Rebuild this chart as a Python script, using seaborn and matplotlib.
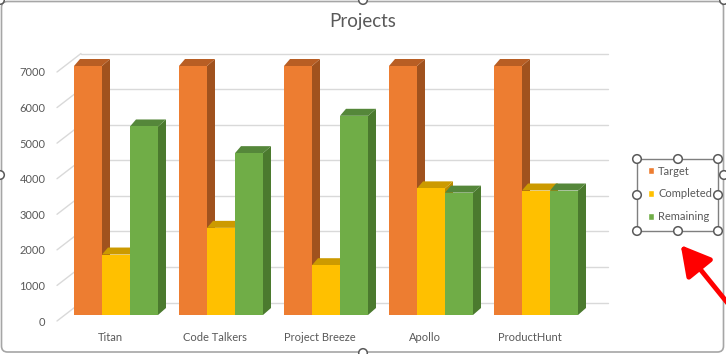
import numpy as np
import pandas as pd
import matplotlib
matplotlib.use("Agg")
import matplotlib.pyplot as plt
import seaborn as sns
from matplotlib.patches import Polygon, Rectangle, Circle, FancyBboxPatch
from matplotlib.transforms import ScaledTranslation

# dados do grafico
projetos = ['Titan', 'Code Talkers', 'Project Breeze', 'Apollo', 'ProductHunt']
target = [7000, 7000, 7000, 7000, 7000]
completed = [1700, 2450, 1400, 3560, 3500]
remaining = [5300, 4550, 5600, 3440, 3500]
series = ['Target', 'Completed', 'Remaining']
yticks = [0, 1000, 2000, 3000, 4000, 5000, 6000, 7000]

cores = ['#ED7D31', '#FFC000', '#70AD47']
cores_lado = ['#A0521E', '#B98B00', '#4B7A2E']
cores_topo = ['#B85E24', '#CC9A00', '#55873A']

df = pd.DataFrame({'Projeto': projetos * 3,
                   'Serie': [s for s in series for _ in projetos],
                   'Valor': target + completed + remaining})

sns.set_style('white')
plt.rcParams['font.family'] = ['Lato', 'DejaVu Sans']
texto = '#595959'

W, H = 726, 354
fig = plt.figure(figsize=(W / 100, H / 100), dpi=100)
ax = fig.add_axes([63.5 / W, 39 / H, 525 / W, 249 / H])

sns.barplot(data=df, x='Projeto', y='Valor', hue='Serie', palette=cores,
            width=0.8, saturation=1, errorbar=None, ax=ax, zorder=3)
handles, labels = ax.get_legend_handles_labels()
ax.get_legend().remove()

ax.set_xlim(-0.5, 4.5)
ax.set_ylim(0, 7000)
ax.set_yticks(yticks)
ax.set_xlabel('')
ax.set_ylabel('')
for s in ax.spines.values():
    s.set_visible(False)
ax.tick_params(length=0, colors=texto, labelsize=8)
ax.tick_params(axis='y', pad=13)
ax.tick_params(axis='x', pad=12.5)

for lab in ax.get_yticklabels():
    lab.set_transform(lab.get_transform() + ScaledTranslation(0, -0.06, fig.dpi_scale_trans))
for lab in ax.get_xticklabels():
    lab.set_transform(lab.get_transform() + ScaledTranslation(-0.06, 0, fig.dpi_scale_trans))

inv = ax.transData.inverted()

def to_data(pts):
    return inv.transform(np.array(pts))

# paredes: grade no fundo e linhas da parede lateral
bdx, bdy = 17.5, 12.5
for v in yticks:
    x0, y0 = ax.transData.transform((-0.5, v))
    x1, _ = ax.transData.transform((4.5, v))
    p = to_data([(x0 + bdx, y0 + bdy), (x1 + bdx + 2, y0 + bdy)])
    ax.plot(p[:, 0], p[:, 1], color='#D9D9D9', lw=1, zorder=0, clip_on=False)
    p = to_data([(x0 - 6.5, y0 - 6), (x0 + bdx, y0 + bdy)])
    ax.plot(p[:, 0], p[:, 1], color='#D9D9D9', lw=1, zorder=0, clip_on=False)

# efeito 3D nas barras (ignora os retangulos vazios da legenda)
dx, dy = 8, 7
barras = sorted([b for b in ax.patches if b.get_width() > 0 and b.get_height() > 0],
                key=lambda b: b.get_x())
hex_cores = [matplotlib.colors.to_hex(c) for c in cores]
for r, b in enumerate(barras):
    k = hex_cores.index(matplotlib.colors.to_hex(b.get_facecolor()))
    b.set_zorder(3 + r * 0.01 + 0.005)
    b.set_edgecolor('none')
    (xa, ya), (xb, yb) = ax.transData.transform([(b.get_x(), b.get_y()),
                                                 (b.get_x() + b.get_width(), b.get_y() + b.get_height())])
    lado = to_data([(xb, ya), (xb + dx, ya + dy), (xb + dx, yb + dy), (xb, yb)])
    topo = to_data([(xa, yb), (xa + dx - 2, yb + dy), (xb + dx, yb + dy), (xb, yb)])
    ax.add_patch(Polygon(lado, closed=True, fc=cores_lado[k], ec='none',
                         zorder=3 + r * 0.01 + 0.001, clip_on=False))
    ax.add_patch(Polygon(topo, closed=True, fc=cores_topo[k], ec='none',
                         zorder=3 + r * 0.01 + 0.002, clip_on=False))

fig.text(363 / W, 1 - 21 / H, 'Projects', ha='center', va='center',
         fontsize=13.5, color=texto)

# legenda
leg = fig.legend(handles, labels, loc='upper left', bbox_to_anchor=(640 / W, 1 - 158 / H),
                 frameon=False, fontsize=8, handlelength=0.6, handleheight=0.6,
                 handletextpad=0.35, labelspacing=1.05, borderpad=0.2)
for t in leg.get_texts():
    t.set_color(texto)

# moldura, alcas de selecao e seta (camada de cima, em pixels)
ov = fig.add_axes([0, 0, 1, 1], zorder=10)
ov.set_xlim(0, W)
ov.set_ylim(H, 0)
ov.axis('off')
ov.patch.set_alpha(0)
ov.add_patch(FancyBboxPatch((1.5, 1.5), W - 4, H - 3.5, boxstyle='round,pad=0,rounding_size=6',
                            fc='none', ec='#A6A6A6', lw=1.2))
ov.add_patch(Rectangle((637, 159), 81, 72, fc='none', ec='#7F7F7F', lw=1))
alcas = [(637, 159), (678, 159), (718, 159), (637, 195), (718, 195),
         (637, 231), (678, 231), (718, 231),
         (0, 175), (363, 0), (363, 353), (724, 175), (724, 0), (0, 0)]
for (cx, cy) in alcas:
    ov.add_patch(Circle((cx, cy), 4.3, fc='white', ec='#595959', lw=1.1))
ov.annotate('', xy=(679, 243), xytext=(730, 306),
            arrowprops=dict(arrowstyle='-|>,head_length=0.9,head_width=0.5',
                            color='#FF0000', lw=3.5, mutation_scale=20))

fig.savefig('out.png', dpi=100)
